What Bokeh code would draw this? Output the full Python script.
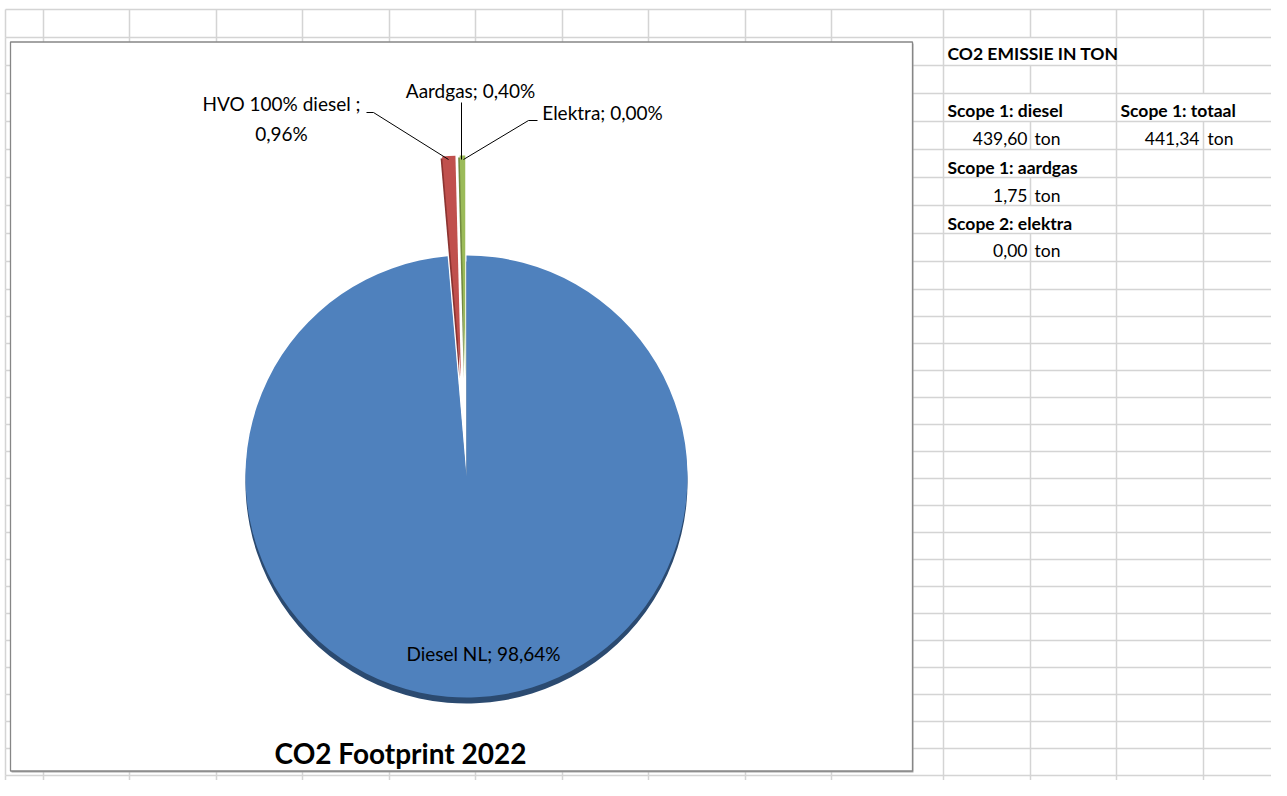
import numpy as np
from bokeh.plotting import figure
from bokeh.models import Range1d
from bokeh.core.properties import value
from bokeh.embed import file_html
from bokeh.resources import INLINE

# ---------------- data ----------------
categories = ["Diesel NL", "HVO 100% diesel", "Aardgas", "Elektra"]
shares = [98.64, 0.96, 0.40, 0.00]          # percent of CO2 footprint
slice_colors = ["#4f81bd", "#c0504d", "#9bbb59", "#8064a2"]
side_colors = ["#2b4a70", "#8c3431", "#728a3f", "#5c4876"]
explode_px = [0, 100, 100, 100]

chart_title = "CO2 Footprint 2022"

table_title = "CO2 EMISSIE IN TON"
scope_labels = ["Scope 1: diesel", "Scope 1: aardgas", "Scope 2: elektra"]
scope_values = [439.60, 1.75, 0.00]
total_label = "Scope 1: totaal"
total_value = 441.34
unit = "ton"

# ---------------- helpers ----------------
W, H = 1271, 780   # figure size; y measured from the top of the picture
def Y(v):
    return H - np.asarray(v, dtype=float)

def nl(v, d=2):
    return f"{v:.{d}f}".replace(".", ",")

FONT = value("Lato")

p = figure(width=W, height=H, x_range=Range1d(0, W), y_range=Range1d(0, H),
           output_backend="svg", toolbar_location=None, min_border=0)
p.axis.visible = False
p.grid.visible = False
p.outline_line_color = None
p.background_fill_color = "white"

# ---------------- spreadsheet grid ----------------
cols = [5, 43, 129, 216, 302, 389, 475, 562, 648, 745, 831, 943, 1030, 1116, 1203]
rows = [9 + 28 * k for k in range(11)] + [289 + 27 * k for k in range(1, 19)]
rows_ext = rows + [800]
hidden = {(1030, 37), (1030, 93), (1203, 93), (1030, 149), (1030, 205)}

hx0, hx1, hy = [], [], []
for r in rows:
    hx0.append(5); hx1.append(1287); hy.append(r)
p.segment(x0=hx0, y0=Y(hy), x1=hx1, y1=Y(hy), line_color="#d4d4d4", line_width=1.5)

vx, vy0, vy1 = [], [], []
for c in cols:
    for a, b in zip(rows_ext[:-1], rows_ext[1:]):
        if (c, a) in hidden:
            continue
        vx.append(c); vy0.append(a); vy1.append(b)
p.segment(x0=vx, y0=Y(vy0), x1=vx, y1=Y(vy1), line_color="#d4d4d4", line_width=1.5)

# ---------------- chart area ----------------
p.quad(left=[11], right=[913], top=Y([43]), bottom=Y([772]), fill_color="#a6a6a6",
       line_color=None)
p.quad(left=[10], right=[912], top=Y([41.5]), bottom=Y([770.5]), fill_color="white",
       line_color="#868686", line_width=1.3)

# ---------------- pie ----------------
frac = np.array(shares) / np.sum(shares)
cum_end = np.cumsum(frac)
cum_start = cum_end - frac
start = np.pi / 2 - 2 * np.pi * cum_end
end = np.pi / 2 - 2 * np.pi * cum_start
mid = (start + end) / 2
ex = np.array(explode_px, dtype=float)
cx0, cy0, R = 466.0, 476.0, 221.0
cx = cx0 + ex * np.cos(mid)
cy = Y(cy0) + ex * np.sin(mid)
vis = np.array(shares) > 0          # a zero share draws nothing

big = [0]
small = [i for i in range(1, len(shares)) if vis[i]]

# 3-D side of the big slice, then its face
p.wedge(x=cx[big], y=cy[big] - 6, radius=R, start_angle=start[big], end_angle=end[big],
        direction="anticlock", fill_color=side_colors[0], line_color=None)
p.wedge(x=cx[big], y=cy[big], radius=R, start_angle=start[big], end_angle=end[big],
        direction="anticlock", fill_color=slice_colors[0], line_color=None)
# small exploded slices (with a thin darker side)
p.wedge(x=cx[small] - 1.5, y=cy[small] - 2, radius=R, start_angle=start[small],
        end_angle=end[small], direction="anticlock",
        fill_color=[side_colors[i] for i in small], line_color=None)
p.wedge(x=cx[small], y=cy[small], radius=R, start_angle=start[small], end_angle=end[small],
        direction="anticlock", fill_color=[slice_colors[i] for i in small], line_color=None)

# ---------------- data labels ----------------
lab = [f"{c}; {nl(s)}%" for c, s in zip(categories, shares)]
lab[1] = f"{categories[1]} ;\n{nl(shares[1])}%"
lx = [483, 281, 470, 602]
ly = [653, 118, 90, 112]
p.text(x=lx, y=Y(ly), text=lab, text_align="center", text_baseline="middle",
       text_font=FONT, text_font_size="19px", text_color="black", text_line_height=1.3)

# leader lines
p.line(x=[366, 373, 448], y=Y([112, 112, 159]), line_color="black", line_width=1)
p.line(x=[461, 461], y=Y([102, 159]), line_color="black", line_width=1)
p.line(x=[537, 528, 463], y=Y([120, 120, 159]), line_color="black", line_width=1)

# title
p.text(x=[400], y=Y([752]), text=[chart_title], text_align="center", text_baseline="middle",
       text_font=FONT, text_font_size="28px", text_font_style="bold", text_color="black")

# ---------------- table on the right ----------------
bold_txt = [table_title] + scope_labels + [total_label]
bold_x = [947, 947, 947, 947, 1120]
bold_y = [53, 110, 167, 223, 110]
p.text(x=bold_x, y=Y(bold_y), text=bold_txt, text_align="left", text_baseline="middle",
       text_font=FONT, text_font_size="17.5px", text_font_style="bold", text_color="black")

num_txt = [nl(v) for v in scope_values] + [nl(total_value)]
num_x = [1027, 1027, 1027, 1199]
num_y = [138, 195, 250, 138]
p.text(x=num_x, y=Y(num_y), text=num_txt, text_align="right", text_baseline="middle",
       text_font=FONT, text_font_size="17.5px", text_color="black")
p.text(x=[1034, 1034, 1034, 1207], y=Y(num_y), text=[unit] * 4, text_align="left",
       text_baseline="middle", text_font=FONT, text_font_size="17.5px", text_color="black")

open("out.html", "w").write(file_html(p, INLINE))
